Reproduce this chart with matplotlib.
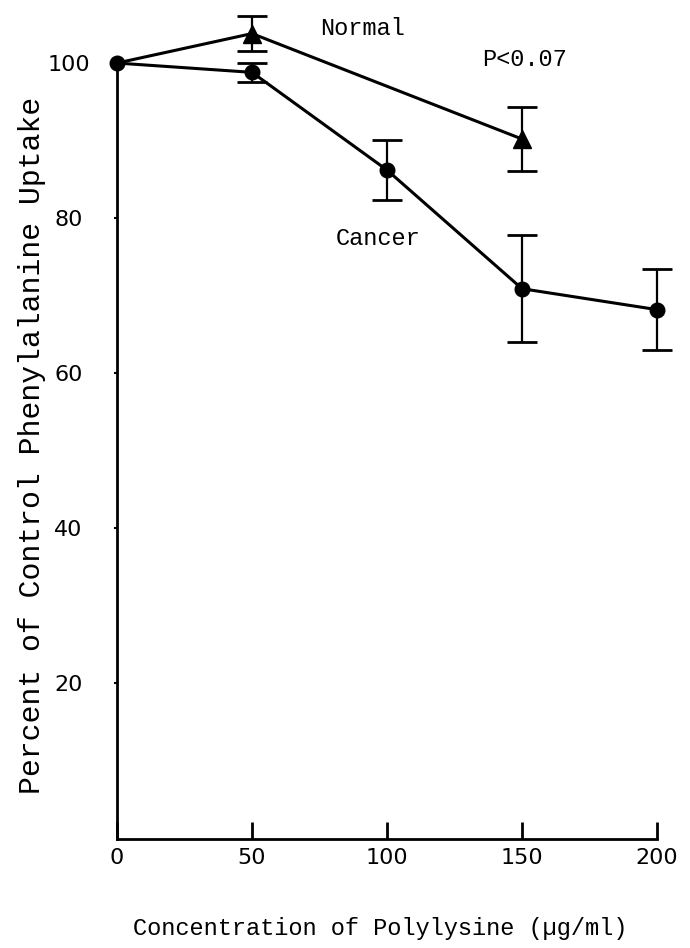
import matplotlib
matplotlib.use("Agg")
import matplotlib.pyplot as plt

# Polylysine concentration (µg/ml)
conc_cancer = [0, 50, 100, 150, 200]
uptake_cancer = [100.0, 98.8, 86.2, 70.9, 68.2]
err_cancer = [0.0, 1.2, 3.9, 6.9, 5.2]

conc_normal = [0, 50, 150]
uptake_normal = [100.0, 103.8, 90.2]
err_normal = [0.0, 2.3, 4.1]

xticks = [0, 50, 100, 150, 200]
yticks = [20, 40, 60, 80, 100]

mono = ["Liberation Mono", "DejaVu Sans Mono"]
num_font = "DejaVu Sans"

fig = plt.figure(figsize=(6.9, 9.48), dpi=100)
ax = fig.add_axes([0.1696, 0.1155, 0.7826, 0.818])


def draw_series(x, y, err, marker, ms, z):
    # connecting line, with markers only where the point belongs to this series
    marks = [i for i in range(len(x)) if not (marker == "^" and x[i] == 0)]
    ax.plot(x, y, color="black", lw=2.2, marker=marker, ms=ms,
            mfc="black", mec="black", markevery=marks, clip_on=False, zorder=z)
    idx = [i for i in range(len(x)) if err[i] > 0]
    ax.errorbar([x[i] for i in idx], [y[i] for i in idx],
                yerr=[err[i] for i in idx], fmt="none", ecolor="black",
                elinewidth=1.6, capsize=11, capthick=2.0, clip_on=False,
                zorder=z)


draw_series(conc_normal, uptake_normal, err_normal, "^", 12.5, 3)
draw_series(conc_cancer, uptake_cancer, err_cancer, "o", 10.5, 4)

ax.set_xlim(0, 200)
ax.set_ylim(0, 100)

for s in ("top", "right"):
    ax.spines[s].set_visible(False)
for s in ("left", "bottom"):
    ax.spines[s].set_linewidth(2.0)

ax.set_xticks(xticks)
ax.set_xticklabels([str(v) for v in xticks], fontfamily=num_font, fontsize=16)
ax.tick_params(axis="x", direction="in", length=12, width=2.0, pad=7)

ax.set_yticks(yticks)
ax.set_yticklabels([str(v) for v in yticks], fontfamily=num_font, fontsize=16)
ax.tick_params(axis="y", direction="out", length=2, width=1.5, pad=33)
for lbl in ax.get_yticklabels():
    lbl.set_horizontalalignment("center")

ax.text(90.9, 104.4, "Normal", fontfamily=mono, fontsize=17,
        ha="center", va="center", clip_on=False)
ax.text(150.8, 100.5, "P<0.07", fontfamily=mono, fontsize=17,
        ha="center", va="center", clip_on=False)
ax.text(96.8, 77.4, "Cancer", fontfamily=mono, fontsize=17,
        ha="center", va="center")

fig.text(0.551, 1 - 928 / 948, "Concentration of Polylysine (µg/ml)",
         fontfamily=mono, fontsize=17, ha="center", va="center")
fig.text(32 / 690, 1 - 445 / 948, "Percent of Control Phenylalanine Uptake",
         fontfamily=mono, fontsize=21.5, ha="center", va="center",
         rotation=90)

fig.savefig("out.png", dpi=100)
